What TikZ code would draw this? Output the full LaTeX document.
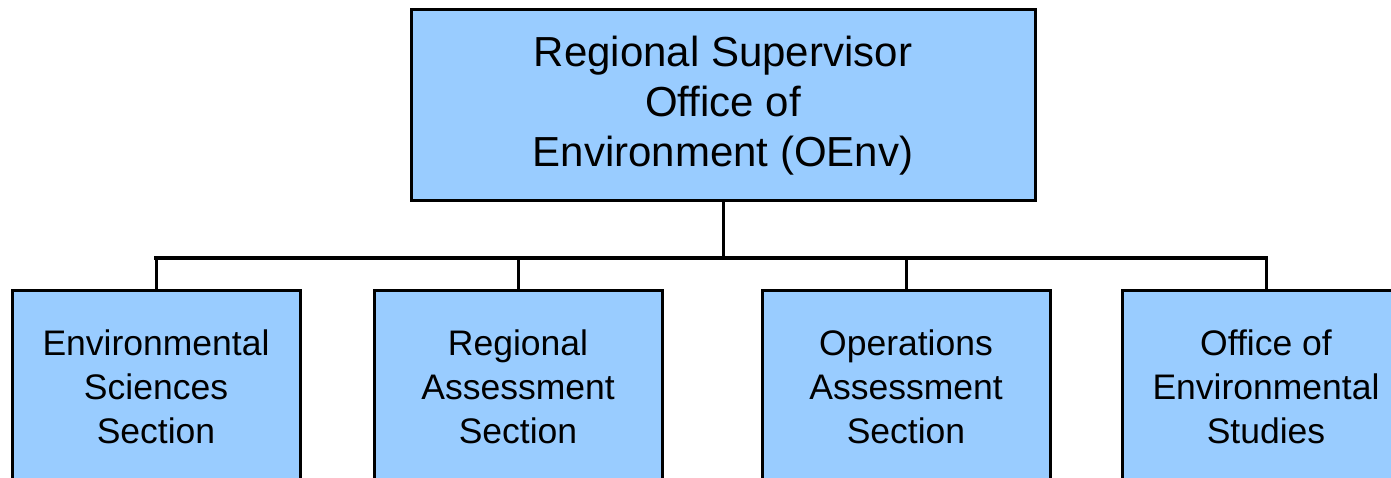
\documentclass[tikz,border=0pt]{standalone}
\usepackage{fontspec}
\setmainfont{Liberation Sans}
\definecolor{boxblue}{HTML}{99CCFF}
\def\ulist{{156/esci/{Environmental\\Sciences\\Section}}, {518/rass/{Regional\\Assessment\\Section}}, {906/oass/{Operations\\Assessment\\Section}}, {1266/oes/{Office of\\Environmental\\Studies}}}
\tikzstyle{unit}=[draw, line width=3pt, fill=boxblue, minimum width=288pt, minimum height=194pt, inner sep=0pt, align=center, font=\fontsize{35.5}{44}\selectfont]
\tikzstyle{head}=[unit, minimum width=624pt, minimum height=191pt, font=\fontsize{42}{50}\selectfont]
\tikzstyle{edge}=[draw, line width=3pt, -]
\tikzstyle{bus}=[draw, line width=4pt, line cap=rect, -]

\begin{document}
\begin{tikzpicture}[x=1pt, y=-1pt]
  \useasboundingbox (0,0) rectangle (1391,478);

  \node[head] (oenv) at (723,105.5) {Regional Supervisor\\Office of\\Environment (OEnv)};
  \coordinate (hub) at (723,258);

  \foreach \x/\name/\label in \ulist {
    \node[unit] (\name) at (\x,387) {\label};
    \coordinate (j-\name) at (\x,258);
  }

  \path[edge] (oenv) -- (hub);
  \path[bus] (j-esci) -- (j-oes);
  \foreach \name in {esci, rass, oass, oes} {
    \path[edge] (j-\name) -- (\name);
  }
\end{tikzpicture}
\end{document}
